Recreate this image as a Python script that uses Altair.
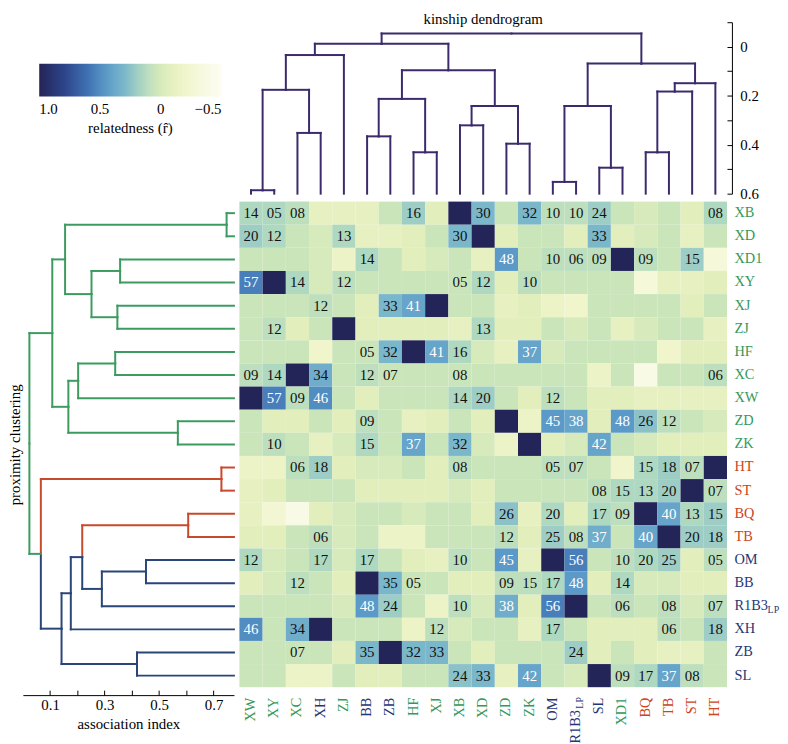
import json
import pandas as pd
import altair as alt

SERIF = "Liberation Serif"
PURPLE = "#3b2a6c"
GREEN = "#3d9b60"
RED = "#c9492b"
BLUE = "#2a4578"
GREEN_T = "#35985a"
RED_T = "#cc4422"
BLUE_T = "#1f3777"

# ---------------- data ----------------
cols = ["XW", "XY", "XC", "XH", "ZJ", "BB", "ZB", "HF", "XJ", "XB", "XD",
        "ZD", "ZK", "OM", "R1B3", "SL", "XD1", "BQ", "TB", "ST", "HT"]
rows = ["XB", "XD", "XD1", "XY", "XJ", "ZJ", "HF", "XC", "XW", "ZD", "ZK",
        "HT", "ST", "BQ", "TB", "OM", "BB", "R1B3", "XH", "ZB", "SL"]
green_ids = ["XB", "XD", "XD1", "XY", "XJ", "ZJ", "HF", "XC", "XW", "ZD", "ZK"]
red_ids = ["HT", "ST", "BQ", "TB"]
blue_ids = ["OM", "BB", "R1B3", "XH", "ZB", "SL"]

# relatedness (colour), rows x cols as displayed
relatedness = [
    [0.15, 0.15, 0.1, -0.1, -0.1, -0.1, 0.05, 0.2, -0.05, 1, 0.3, 0.05, 0.3, 0.1, 0.1, 0.2, 0.05, 0.0, 0.05, -0.05, 0.15],
    [0.2, 0.15, 0.05, 0.0, 0.15, -0.1, -0.1, -0.05, 0.05, 0.3, 1, -0.05, 0.05, 0.05, -0.05, 0.3, -0.05, 0.0, 0.05, -0.1, 0.05],
    [0.05, 0.05, 0.05, 0.0, -0.15, 0.15, 0.05, -0.05, 0.0, 0.05, -0.1, 0.45, 0.05, 0.1, 0.1, 0.1, 1, 0.1, 0.05, 0.2, -0.3],
    [0.55, 1, 0.15, 0.0, 0.1, 0.05, 0.05, 0.05, 0.05, 0.05, 0.15, -0.05, 0.1, 0.05, 0.05, 0.05, 0.05, -0.3, -0.1, -0.1, -0.05],
    [0.05, 0.05, 0.05, 0.1, 0.05, -0.05, 0.3, 0.4, 1, 0.05, 0.05, -0.1, -0.05, -0.15, -0.2, 0.05, 0.05, 0.05, 0.05, -0.05, 0.05],
    [0.05, 0.1, -0.05, 0.05, 1, -0.05, -0.05, -0.05, -0.05, -0.1, 0.15, -0.05, -0.05, 0.05, 0.0, 0.05, -0.1, 0.0, 0.05, 0.05, -0.1],
    [0.05, 0.05, 0.05, -0.2, 0.05, 0.05, 0.3, 1, 0.4, 0.15, 0.0, -0.1, 0.4, 0.0, 0.05, 0.05, 0.05, 0.05, -0.2, -0.05, -0.05],
    [0.1, 0.15, 1, 0.35, 0.05, 0.1, 0.05, 0.05, 0.05, 0.05, 0.05, 0.05, 0.05, 0.05, 0.05, -0.15, 0.05, -0.4, 0.05, 0.05, 0.1],
    [1, 0.55, 0.1, 0.5, 0.05, -0.05, 0.05, 0.05, 0.05, 0.15, 0.2, 0.05, -0.05, 0.1, 0.05, -0.05, -0.05, -0.1, -0.1, -0.1, -0.1],
    [0.05, -0.05, -0.05, 0.05, -0.05, 0.1, 0.05, -0.1, -0.05, 0.05, -0.05, 1, -0.15, 0.45, 0.4, -0.05, 0.45, 0.25, 0.1, 0.05, 0.0],
    [0.05, 0.1, 0.05, -0.1, 0.0, 0.15, 0.05, 0.4, 0.05, 0.3, 0.0, -0.15, 1, -0.05, 0.0, 0.4, 0.05, 0.0, -0.05, -0.05, -0.05],
    [-0.15, -0.15, 0.1, 0.2, -0.05, 0.0, 0.0, 0.05, -0.05, 0.1, 0.05, 0.05, 0.05, 0.1, 0.1, 0.05, -0.2, 0.15, 0.2, 0.1, 1],
    [-0.1, -0.05, 0.05, 0.05, 0.05, -0.05, -0.05, -0.05, -0.05, 0.0, -0.05, 0.05, 0.05, 0.05, 0.05, 0.1, 0.15, 0.15, 0.2, 1, 0.1],
    [-0.1, -0.25, -0.4, -0.05, 0.0, 0.05, 0.05, 0.0, 0.05, 0.05, -0.05, 0.25, -0.1, 0.15, -0.05, 0.15, 0.1, 1, 0.4, 0.15, 0.2],
    [-0.05, -0.05, 0.05, 0.1, 0.0, 0.05, -0.15, -0.15, 0.05, 0.05, 0.05, 0.1, -0.05, 0.2, 0.1, 0.35, 0.05, 0.4, 1, 0.2, 0.2],
    [0.15, 0.0, 0.05, 0.15, 0.0, 0.15, 0.05, -0.05, -0.1, 0.1, 0.05, 0.45, -0.1, 1, 0.55, 0.05, 0.1, 0.15, 0.2, -0.05, 0.1],
    [-0.05, 0.0, 0.1, 0.05, -0.05, 1, 0.3, 0.05, 0.05, -0.05, -0.05, 0.1, 0.1, 0.15, 0.45, -0.05, 0.15, 0.0, 0.0, -0.05, -0.05],
    [0.05, 0.05, 0.05, 0.05, 0.0, 0.45, 0.2, 0.05, -0.15, 0.1, 0.0, 0.35, -0.05, 0.55, 1, 0.05, 0.1, 0.05, 0.1, 0.0, 0.1],
    [0.5, 0.05, 0.35, 1, 0.05, 0.05, 0.05, -0.15, 0.1, 0.0, 0.05, 0.05, -0.1, 0.15, 0.05, -0.05, -0.05, -0.05, 0.1, 0.05, 0.2],
    [0.05, 0.05, 0.05, 0.05, -0.05, 0.3, 1, 0.3, 0.3, 0.05, -0.05, 0.05, 0.05, 0.05, 0.2, -0.05, 0.05, -0.05, -0.1, -0.1, 0.05],
    [0.05, 0.05, -0.15, -0.15, 0.05, -0.05, -0.05, 0.05, 0.05, 0.25, 0.3, -0.1, 0.4, 0.05, 0.0, 1, 0.1, 0.15, 0.4, 0.1, 0.05],
]

# association index (x100) printed in the cells, symmetric pairs
assoc_pairs = [
    ("XB", "XW", 14), ("XB", "XY", 5), ("XB", "XC", 8), ("XB", "HF", 16), ("XB", "XD", 30),
    ("XB", "ZK", 32), ("XB", "OM", 10), ("XB", "R1B3", 10), ("XB", "SL", 24), ("XB", "HT", 8),
    ("XD", "XW", 20), ("XD", "XY", 12), ("XD", "ZJ", 13), ("XD", "SL", 33),
    ("XD1", "BB", 14), ("XD1", "ZD", 48), ("XD1", "OM", 10), ("XD1", "R1B3", 6), ("XD1", "SL", 9),
    ("XD1", "BQ", 9), ("XD1", "ST", 15),
    ("XY", "XW", 57), ("XY", "XC", 14), ("XY", "ZJ", 12), ("XY", "ZK", 10),
    ("XJ", "XH", 12), ("XJ", "ZB", 33), ("XJ", "HF", 41),
    ("HF", "BB", 5), ("HF", "ZB", 32), ("HF", "ZK", 37),
    ("XC", "XW", 9), ("XC", "XH", 34), ("XC", "BB", 12), ("XC", "ZB", 7), ("XC", "HT", 6),
    ("XW", "XH", 46), ("XW", "OM", 12),
    ("ZD", "BB", 9), ("ZD", "OM", 45), ("ZD", "R1B3", 38), ("ZD", "BQ", 26), ("ZD", "TB", 12),
    ("ZK", "BB", 15), ("ZK", "SL", 42),
    ("HT", "XH", 18), ("HT", "OM", 5), ("HT", "R1B3", 7), ("HT", "BQ", 15), ("HT", "TB", 18), ("HT", "ST", 7),
    ("ST", "SL", 8), ("ST", "BQ", 13), ("ST", "TB", 20),
    ("BQ", "OM", 20), ("BQ", "SL", 17), ("BQ", "TB", 40),
    ("TB", "XH", 6), ("TB", "OM", 25), ("TB", "R1B3", 8), ("TB", "SL", 37),
    ("OM", "XH", 17), ("OM", "BB", 17), ("OM", "R1B3", 56),
    ("BB", "ZB", 35), ("BB", "R1B3", 48),
    ("R1B3", "ZB", 24),
]

# kinship dendrogram (columns): (child a, child b, merge height); "mK" = K-th merge
top_merges = [
    ("XW", "XY", 0.586), ("XC", "XH", 0.352), ("m0", "m1", 0.176), ("m2", "ZJ", 0.034),
    ("BB", "ZB", 0.366), ("HF", "XJ", 0.431), ("m4", "m5", 0.213), ("XB", "XD", 0.321),
    ("ZD", "ZK", 0.396), ("m7", "m8", 0.242), ("m6", "m9", 0.096), ("m3", "m10", -0.012),
    ("OM", "R1B3", 0.552), ("SL", "XD1", 0.494), ("m12", "m13", 0.242), ("BQ", "TB", 0.431),
    ("m15", "ST", 0.183), ("m16", "HT", 0.149), ("m14", "m17", 0.069), ("m11", "m18", -0.054),
]
top_leaf_h = 0.6

# proximity clustering (rows): (child a, child b, association index)
left_merges = [
    ("XB", "XD", 0.748), ("XD1", "XY", 0.357), ("XJ", "ZJ", 0.347), ("m1", "m2", 0.252),
    ("m0", "m3", 0.155), ("HF", "XC", 0.339), ("m5", "XW", 0.203), ("ZD", "ZK", 0.569),
    ("m6", "m7", 0.167), ("m4", "m8", 0.108), ("HT", "ST", 0.729), ("BQ", "TB", 0.607),
    ("OM", "BB", 0.452), ("m12", "R1B3", 0.290), ("m11", "m13", 0.218), ("m14", "XH", 0.176),
    ("ZB", "SL", 0.419), ("m15", "m16", 0.142), ("m10", "m17", 0.066), ("m9", "m18", 0.024),
]
left_leaf_h = 0.775
left_mixed = {"m14": BLUE, "m15": BLUE, "m17": BLUE, "m18": GREEN}

# colour map for relatedness (descending so that 1.0 sits at the left of the bar)
c_domain = [1.0, 0.8, 0.6, 0.45, 0.3, 0.15, 0.05, -0.05, -0.2, -0.5]
c_range = ["#232457", "#2c4389", "#3f72b3", "#5b9ac8", "#7bb7cb", "#aed8c0",
           "#cbe5bb", "#e2eebb", "#f1f5cc", "#fdfdf3"]
cbar_ticks = [1.0, 0.5, 0.0, -0.5]


def group_color(n, g, r, b):
    if n in green_ids:
        return g
    if n in red_ids:
        return r
    return b


def seg_df(leaves, merges, leaf_h, leaf_col, mixed):
    pos = {n: i + 0.5 for i, n in enumerate(leaves)}
    hgt = {n: leaf_h for n in leaves}
    uni = {n: leaf_col[n] for n in leaves}
    out = []
    for k, (a, b, h) in enumerate(merges):
        node = "m%d" % k
        mid = (pos[a] + pos[b]) / 2.0
        for c in (a, b):
            lc = uni[c] if uni[c] else mixed[c]
            out.append({"p": pos[c], "p2": pos[c], "h": hgt[c], "h2": h, "c": lc})
            out.append({"p": pos[c], "p2": mid, "h": h, "h2": h, "c": lc})
        pos[node] = mid
        hgt[node] = h
        uni[node] = uni[a] if (uni[a] and uni[a] == uni[b]) else None
    return pd.DataFrame(out)


# ---------------- geometry ----------------
W_HEAT, H_HEAT = 492, 490
W_LEFT = 213
H_TOP = 173
GAP_H, GAP_V = 5.5, 8
LBL_PAD = 10
LP_W = 13  # width of the "LP" subscript at 10px

cscale = alt.Scale(domain=c_domain, range=c_range, interpolate="rgb")

# ---------------- heatmap ----------------
amap = {}
for a, b, v in assoc_pairs:
    amap[(a, b)] = v
    amap[(b, a)] = v
recs = []
for i, rn in enumerate(rows):
    for j, cn in enumerate(cols):
        v = amap.get((rn, cn))
        recs.append({
            "row": rn, "col": cn, "r": relatedness[i][j],
            "t": ("%02d" % v) if v is not None else "",
            "light": 1 if (v is not None and v >= 36) else 0,
        })
heat_df = pd.DataFrame(recs)


def cond_colors():
    return {
        "condition": [
            {"test": "indexof(%s, datum.value) >= 0" % json.dumps(green_ids), "value": GREEN_T},
            {"test": "indexof(%s, datum.value) >= 0" % json.dumps(red_ids), "value": RED_T},
        ],
        "value": BLUE_T,
    }


xh = alt.X("col:N", sort=cols, scale=alt.Scale(paddingInner=0, paddingOuter=0),
           axis=alt.Axis(orient="bottom", labelAngle=270, labelAlign="right", labelBaseline="middle",
                         labelPadding=LBL_PAD, ticks=False, tickSize=0, domain=False, title=None,
                         labelFont=SERIF, labelFontSize=14.5, labelColor=cond_colors(),
                         labelExpr="datum.value == 'R1B3' ? '' : datum.value"))
yh = alt.Y("row:N", sort=rows, scale=alt.Scale(paddingInner=0, paddingOuter=0),
           axis=alt.Axis(orient="right", labelPadding=7, ticks=False, tickSize=0, domain=False,
                         title=None, labelFont=SERIF, labelFontSize=14.5, labelColor=cond_colors()))

legend = alt.Legend(
    orient="none", legendX=39 - 241, legendY=60 - 199, direction="horizontal",
    gradientLength=184, gradientThickness=33, values=cbar_ticks, labelOverlap=False,
    labelExpr="datum.value == 1 ? '1.0' : (datum.value == 0 ? '0' : (datum.value < 0 ? '\u2212' + format(-datum.value, '.1f') : format(datum.value, '.1f')))",
    title="relatedness (r\u0302)", titleOrient="bottom", titleAnchor="middle",
    titleFont=SERIF, titleFontSize=15, titleFontWeight="normal", titleColor="black",
    labelFont=SERIF, labelFontSize=15, labelColor="black", labelOffset=6, titlePadding=4,
    gradientStrokeWidth=0)

rect = alt.Chart(heat_df).mark_rect(strokeWidth=0).encode(
    x=xh, y=yh, color=alt.Color("r:Q", scale=cscale, legend=legend))
txt_dark = alt.Chart(heat_df).transform_filter("datum.t != '' && datum.light == 0").mark_text(
    font=SERIF, fontSize=15, baseline="middle", color="#111111").encode(
    x=alt.X("col:N", sort=cols), y=alt.Y("row:N", sort=rows), text="t:N")
txt_light = alt.Chart(heat_df).transform_filter("datum.t != '' && datum.light == 1").mark_text(
    font=SERIF, fontSize=15, baseline="middle", color="#ffffff").encode(
    x=alt.X("col:N", sort=cols), y=alt.Y("row:N", sort=rows), text="t:N")
sub_row = alt.Chart(pd.DataFrame({"row": ["R1B3"], "s": ["LP"]})).mark_text(
    font=SERIF, fontSize=10, align="left", baseline="middle", dy=4, color=BLUE_T).encode(
    y=alt.Y("row:N", sort=rows), x=alt.value(W_HEAT + 7 + 34), text="s:N")
col_base = alt.Chart(pd.DataFrame({"col": ["R1B3"], "s": ["R1B3"]})).mark_text(
    font=SERIF, fontSize=14.5, align="right", baseline="middle", angle=270, dx=-LP_W,
    color=BLUE_T).encode(
    x=alt.X("col:N", sort=cols), y=alt.value(H_HEAT + LBL_PAD), text="s:N")
col_sub = alt.Chart(pd.DataFrame({"col": ["R1B3"], "s": ["LP"]})).mark_text(
    font=SERIF, fontSize=10, align="right", baseline="middle", angle=270, dy=4,
    color=BLUE_T).encode(
    x=alt.X("col:N", sort=cols), y=alt.value(H_HEAT + LBL_PAD), text="s:N")
heat = alt.layer(rect, txt_dark, txt_light, sub_row, col_base, col_sub).properties(
    width=W_HEAT, height=H_HEAT)

# ---------------- top dendrogram ----------------
top_df = seg_df(cols, top_merges, top_leaf_h, {n: PURPLE for n in cols}, {})
top_chart = alt.Chart(top_df).mark_rule(strokeWidth=2, strokeCap="square", color=PURPLE).encode(
    x=alt.X("p:Q", scale=alt.Scale(domain=[0, 21], nice=False, zero=False), axis=None),
    x2="p2",
    y=alt.Y("h:Q", scale=alt.Scale(domain=[-0.1, 0.6], reverse=True, nice=False, zero=False),
            axis=alt.Axis(orient="right", offset=5, values=[-0.1, 0, 0.1, 0.2, 0.3, 0.4, 0.5, 0.6],
                          labelExpr="(datum.value >= 0 && round(datum.value*10) % 2 == 0) ? (datum.value == 0 ? '0' : format(datum.value, '.1f')) : ''",
                          title=None, grid=False, tickSize=alt.ExprRef("-5"), labelPadding=13)),
    y2="h2",
).properties(width=W_HEAT, height=H_TOP,
             title=alt.TitleParams("kinship dendrogram", font=SERIF, fontSize=15, fontWeight="normal",
                                   offset=-5, anchor="middle", color="black"))

# ---------------- left dendrogram ----------------
left_df = seg_df(rows, left_merges, left_leaf_h,
                 {n: group_color(n, GREEN, RED, BLUE) for n in rows}, left_mixed)
left_chart = alt.Chart(left_df).mark_rule(strokeWidth=2, strokeCap="square").encode(
    x=alt.X("h:Q", scale=alt.Scale(domain=[0, left_leaf_h], nice=False, zero=False),
            axis=alt.Axis(orient="bottom", offset=8, values=[0.1, 0.2, 0.3, 0.4, 0.5, 0.6, 0.7],
                          labelExpr="round(datum.value*10) % 2 == 1 ? format(datum.value, '.1f') : ''",
                          title="association index", grid=False, tickSize=alt.ExprRef("-5"),
                          labelPadding=8, titlePadding=4)),
    x2="h2",
    y=alt.Y("p:Q", scale=alt.Scale(domain=[0, 21], reverse=True, nice=False, zero=False),
            axis=alt.Axis(title="proximity clustering", domain=False, ticks=False, labels=False,
                          grid=False, titlePadding=0)),
    y2="p2",
    color=alt.Color("c:N", scale=alt.Scale(domain=[GREEN, RED, BLUE], range=[GREEN, RED, BLUE]),
                    legend=None),
).properties(width=W_LEFT, height=H_HEAT)

spacer = alt.Chart(pd.DataFrame({"z": [0]})).mark_text(text="").encode(
    x=alt.value(0), y=alt.value(0)).properties(width=W_LEFT, height=H_TOP)

chart = alt.concat(
    spacer, top_chart, left_chart, heat, columns=2,
    spacing={"row": GAP_V, "column": GAP_H}, bounds="flush", align="each",
).resolve_scale(color="independent").properties(padding=0).configure_view(
    strokeWidth=0).configure_axis(
    domainColor="black", tickColor="black", labelColor="black", titleColor="black",
    labelFont=SERIF, titleFont=SERIF, labelFontSize=15, titleFontSize=15,
    titleFontWeight="normal", domainWidth=1, tickWidth=1)

chart.save("out.html", embed_options={"renderer": "svg", "actions": False})
